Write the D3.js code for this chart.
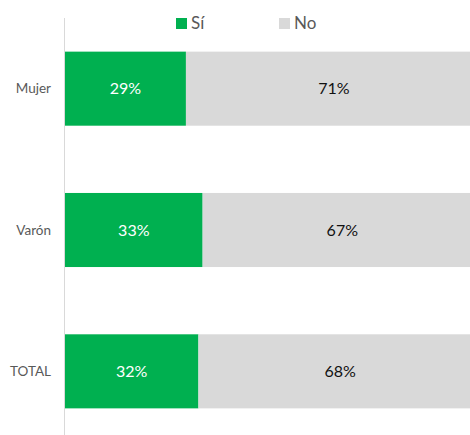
<!DOCTYPE html>
<html>
<head>
<meta charset="utf-8">
<script src="https://cdn.jsdelivr.net/npm/d3@7"></script>
<style>
  body { margin: 0; background: white; }
  text { font-family: Lato, "Open Sans", sans-serif; }
</style>
</head>
<body>
<div id="container"></div>
<script>
let w = 470;
let h = 435;

let categories = ["Mujer", "Varón", "TOTAL"];
let siValues = [29, 33, 32];
let noValues = [71, 67, 68];
let seriesNames = ["Sí", "No"];
let seriesColors = ["#00B050", "#D9D9D9"];

let viz = d3.select("#container")
  .append("svg")
    .attr("width", w)
    .attr("height", h)
    .style("background-color", "white")
;

// x runs past the right edge, like the original (the 100% end is cut off)
let xScale = d3.scaleLinear().domain([0, 100]).range([65, 482]);
let yScale = d3.scaleBand().domain(categories).range([18, 442]).paddingInner(0.476).paddingOuter(0.238);

let rows = categories.map(function(c, i){
  return {cat: c, si: siValues[i], no: noValues[i]};
});

// vertical axis line
viz.append("line")
  .attr("x1", 64.5)
  .attr("y1", 18)
  .attr("x2", 64.5)
  .attr("y2", h)
  .style("stroke", "#D9D9D9")
  .style("stroke-width", 1)
;

let groups = viz.selectAll(".row").data(rows).enter()
  .append("g")
    .attr("class", "row")
;

groups.append("rect") // Sí
  .attr("x", xScale(0))
  .attr("y", d => yScale(d.cat))
  .attr("width", d => xScale(d.si) - xScale(0))
  .attr("height", yScale.bandwidth())
  .attr("fill", seriesColors[0])
;
groups.append("rect") // No
  .attr("x", d => xScale(d.si))
  .attr("y", d => yScale(d.cat))
  .attr("width", d => xScale(d.si + d.no) - xScale(d.si))
  .attr("height", yScale.bandwidth())
  .attr("fill", seriesColors[1])
;

groups.append("text")
  .text(d => d.si + "%")
  .attr("x", d => (xScale(0) + xScale(d.si)) / 2)
  .attr("y", d => yScale(d.cat) + yScale.bandwidth() / 2)
  .attr("dy", "0.35em")
  .attr("text-anchor", "middle")
  .attr("font-size", 16)
  .attr("fill", "white")
;
groups.append("text")
  .text(d => d.no + "%")
  .attr("x", d => (xScale(d.si) + xScale(d.si + d.no)) / 2)
  .attr("y", d => yScale(d.cat) + yScale.bandwidth() / 2)
  .attr("dy", "0.35em")
  .attr("text-anchor", "middle")
  .attr("font-size", 16)
  .attr("fill", "#111")
;

groups.append("text") // category labels
  .text(d => d.cat)
  .attr("x", 51)
  .attr("y", d => yScale(d.cat) + yScale.bandwidth() / 2)
  .attr("dy", "0.35em")
  .attr("text-anchor", "end")
  .attr("font-size", 13.5)
  .attr("fill", "#595959")
;

// legend
let legendX = [176, 279];
let legend = viz.selectAll(".legend").data(seriesNames).enter()
  .append("g")
    .attr("class", "legend")
    .attr("transform", (d, i) => "translate(" + legendX[i] + ",18)")
;
legend.append("rect")
  .attr("width", 11)
  .attr("height", 11)
  .attr("fill", (d, i) => seriesColors[i])
;
legend.append("text")
  .text(d => d)
  .attr("x", 15)
  .attr("y", 5.5)
  .attr("dy", "0.35em")
  .attr("font-size", 17)
  .attr("fill", "#595959")
;
</script>
</body>
</html>
